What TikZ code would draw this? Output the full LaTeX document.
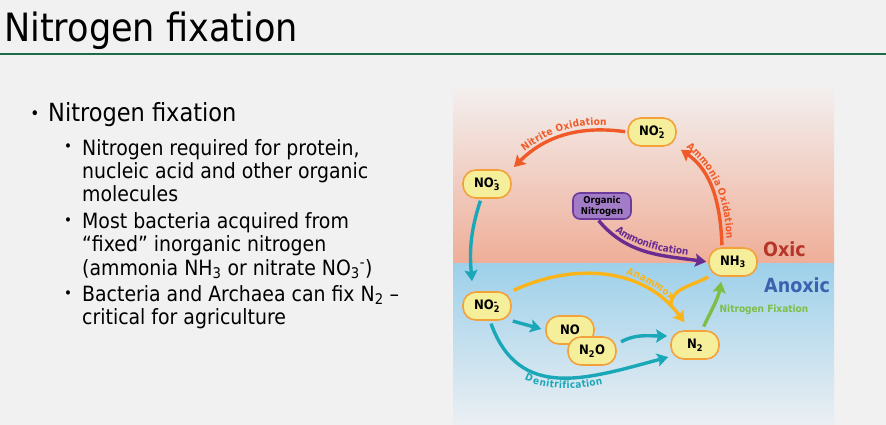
\documentclass[tikz,border=0pt]{standalone}
\usepackage{fontspec}
\setmainfont{DejaVu Sans Condensed}
\usepackage{xcolor}
\usepackage{tikz}
\usetikzlibrary{positioning,arrows.meta,decorations.text}

\definecolor{slidebg}{HTML}{F1F1F1}
\definecolor{rulecol}{HTML}{1D6B46}
\definecolor{oxtop}{HTML}{F3EFEE}
\definecolor{oxbot}{HTML}{EFAE98}
\definecolor{anxtop}{HTML}{9DD0EA}
\definecolor{anxbot}{HTML}{EBEFF3}
\definecolor{nodefill}{HTML}{F5EF9C}
\definecolor{nodeedge}{HTML}{F3A23A}
\definecolor{orgfill}{HTML}{A37CC7}
\definecolor{orgedge}{HTML}{6C3B9C}
\definecolor{oxcol}{HTML}{F05A28}
\definecolor{tealcol}{HTML}{1AA8B8}
\definecolor{purpcol}{HTML}{6A2C91}
\definecolor{yelcol}{HTML}{FBB41A}
\definecolor{greencol}{HTML}{7DBF45}
\definecolor{oxtext}{HTML}{B5352A}
\definecolor{anxtext}{HTML}{3A62AE}

\newcommand{\lblfont}{\fontsize{10}{12}\selectfont\bfseries}

\begin{document}
\begin{tikzpicture}[x=1pt, y=1pt,
  chem/.style={draw=nodeedge, line width=1.6pt, fill=nodefill, rounded corners=13pt,
    minimum width=48pt, minimum height=28pt, inner sep=0pt, font=\fontsize{13}{14}\selectfont\bfseries},
  orgbox/.style={draw=orgedge, line width=1.6pt, fill=orgfill, rounded corners=7pt,
    minimum width=58pt, minimum height=26pt, inner sep=0pt, align=center, font=\fontsize{9.5}{11}\selectfont\bfseries},
  flow/.style={-{Stealth[length=11pt, width=13pt, inset=2pt]}, line width=3.4pt},
  lvlone/.style={anchor=base west, inner sep=0pt, font=\fontsize{25}{29}\selectfont},
  lvltwo/.style={anchor=base west, inner sep=0pt, font=\fontsize{21}{23.5}\selectfont},
  dotone/.style={anchor=base, inner sep=0pt, font=\fontsize{17}{17}\selectfont},
  dottwo/.style={anchor=base, inner sep=0pt, font=\fontsize{15}{15}\selectfont},
  zone/.style={anchor=base west, inner sep=0pt, font=\fontsize{19.5}{22}\selectfont\bfseries}]
% slide
\fill[slidebg] (0,0) rectangle (886,-425);
\useasboundingbox (0,0) rectangle (886,-425);
\node[anchor=base west, inner sep=0pt, font=\fontsize{39}{44}\selectfont] (title) at (4,-42) {Nitrogen fixation};
\draw[rulecol, line width=2pt] (0,-54.5) -- (886,-54.5);
% bullets
\node[dotone] (d1) at (35,-120) {•};
\node[lvlone] (t1) at (48,-122) {Nitrogen fixation};
\node[dottwo] (d2) at (68,-152) {•};
\node[lvltwo] (t2) at (82,-155) {\parbox[t]{330pt}{\raggedright Nitrogen required for protein,\\nucleic acid and other organic\\molecules}};
\node[dottwo] (d3) at (68,-225) {•};
\node[lvltwo] (t3) at (82,-228) {\parbox[t]{330pt}{\raggedright Most bacteria acquired from\\“fixed” inorganic nitrogen\\(ammonia NH\textsubscript{3} or nitrate NO\textsubscript{3}\textsuperscript{-})}};
\node[dottwo] (d4) at (68,-298) {•};
\node[lvltwo] (t4) at (82,-301) {\parbox[t]{330pt}{\raggedright Bacteria and Archaea can fix N\textsubscript{2} --\\critical for agriculture}};
% oxic / anoxic panel
\shade[top color=oxtop, bottom color=oxbot] (453,-89) rectangle (834,-263);
\shade[top color=anxtop, bottom color=anxbot] (453,-263) rectangle (834,-425);
\node[zone, text=oxtext] (oxic) at (763,-256) {Oxic};
\node[zone, text=anxtext] (anoxic) at (764,-292) {Anoxic};
% compounds
\node[chem] (no2t) at (652,-132) {NO\rlap{\textsuperscript{-}}\textsubscript{2}};
\node[chem] (no3) at (487,-184) {NO\rlap{\textsuperscript{-}}\textsubscript{3}};
\node[orgbox] (orgn) at (602,-206) {Organic\\Nitrogen};
\node[chem] (nh3) at (733,-262) {NH\textsubscript{3}};
\node[chem] (no2b) at (487,-306) {NO\rlap{\textsuperscript{-}}\textsubscript{2}};
\node[chem] (no) at (570,-330) {NO};
\node[chem] (n2o) at (592,-351) {N\textsubscript{2}O};
\node[chem] (n2) at (695,-345) {N\textsubscript{2}};
\node[font=\lblfont, text=greencol] (nfix) at (764,-310) {Nitrogen Fixation};
% oxidation
\draw[flow, oxcol, shorten <=2pt, shorten >=3pt,
  postaction={decorate, decoration={text along path, reverse path, raise=5pt, text align=center,
    text={|\lblfont\color{oxcol}|Nitrite Oxidation}}}]
  (no2t.west) to[out=172, in=45] (no3.north east);
\draw[flow, oxcol, shorten <=2pt, shorten >=5pt,
  postaction={decorate, decoration={text along path, reverse path, raise=5pt, text align=center,
    text={|\lblfont\color{oxcol}|Ammonia Oxidation}}}]
  ([xshift=-11pt]nh3.north) to[out=92, in=-35] (no2t.south east);
\draw[flow, purpcol, shorten <=1pt, shorten >=2pt,
  postaction={decorate, decoration={text along path, raise=4pt, text align=center,
    text={|\lblfont\color{purpcol}|Ammonification}}}]
  ([xshift=-4pt]orgn.south) to[out=-50, in=172] (nh3.west);
% reduction
\draw[flow, tealcol, shorten <=2pt] ([xshift=-6pt]no3.south) to[out=252, in=95] ([xshift=-15pt, yshift=10pt]no2b.north);
\draw[flow, yelcol, shorten <=2pt, shorten >=1pt,
  postaction={decorate, decoration={text along path, raise=5pt, text align={right, right indent=26pt},
    text={|\lblfont\color{yelcol}|Anammox}}}]
  (no2b.north east) to[out=25, in=126] ([xshift=-10pt, yshift=7pt]n2.north);
\coordinate (amxjoin) at (671,-307);
\draw[yelcol, line width=3.4pt] (nh3.south west) to[out=210, in=95] (amxjoin);
\draw[flow, tealcol, shorten <=1pt, shorten >=4pt] (no2b.south east) -- (no.west);
\draw[flow, tealcol, shorten <=5pt, shorten >=3pt] (n2o.15) to[out=30, in=180] (n2.160);
\draw[flow, tealcol, shorten <=3pt, shorten >=2pt,
  postaction={decorate, decoration={text along path, raise=-11pt, text align={left, left indent=64pt},
    text={|\lblfont\color{tealcol}|Denitrification}}}]
  ([xshift=3pt]no2b.south) to[out=-70, in=195, looseness=1.2] (n2.205);
\draw[flow, greencol, shorten <=4pt, shorten >=5pt] ([xshift=7pt]n2.north) to[out=65, in=-100] ([xshift=-11pt]nh3.south);
\end{tikzpicture}
\end{document}
